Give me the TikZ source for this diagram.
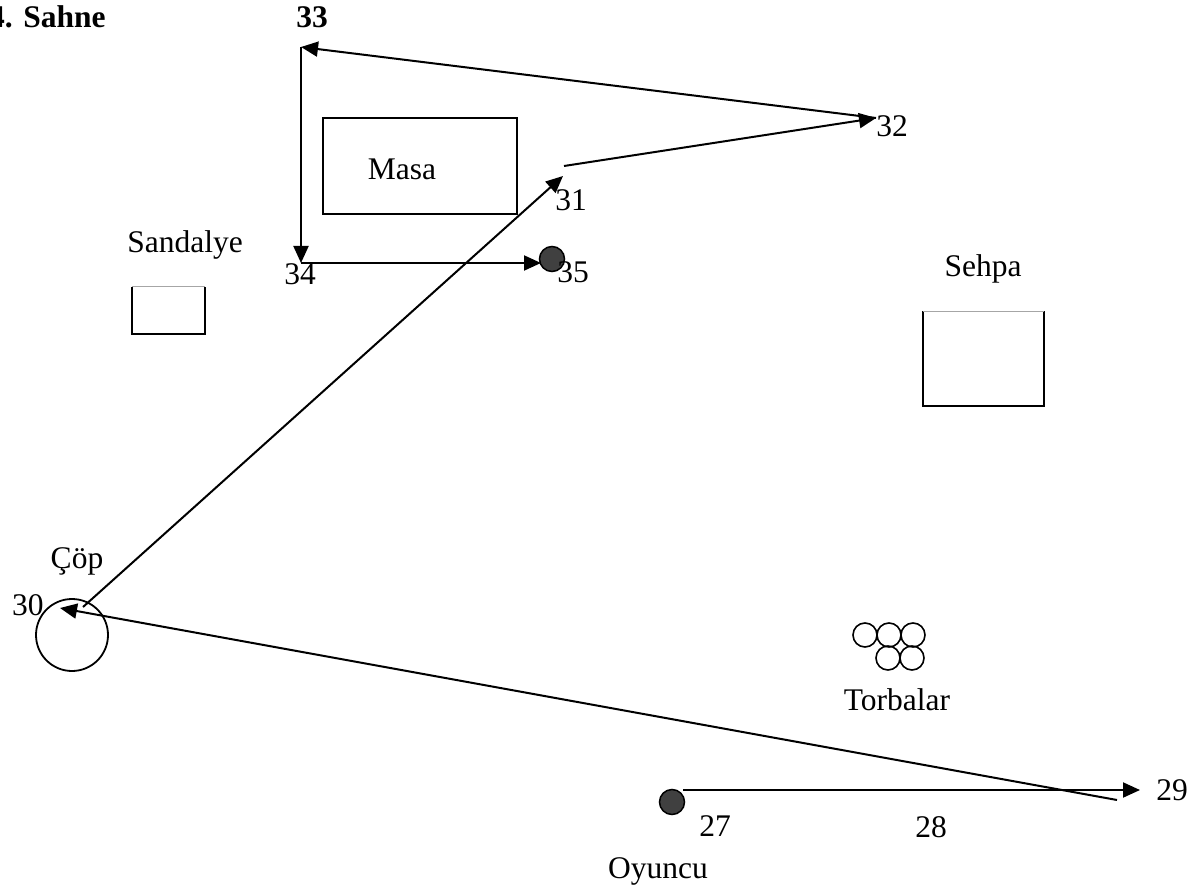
\documentclass[tikz,border=0pt]{standalone}
\usepackage{fontspec}
\setmainfont{Liberation Serif}
\usetikzlibrary{arrows.meta}
\begin{document}
\begin{tikzpicture}[x=1pt,y=-1pt,
  lbl/.style={inner sep=0pt,anchor=base,font=\fontsize{31.5}{36}\selectfont},
  bold lbl/.style={lbl,font=\fontsize{31.5}{36}\selectfont\bfseries},
  ln/.style={line width=2pt},
  arr/.style={ln,-{Triangle[length=17pt,width=15pt]}},
  furn/.style={line width=2pt},
  dot/.style={circle,draw=black,line width=1.5pt,fill=black!75,minimum size=25pt,inner sep=0pt},
  bag/.style={circle,draw=black,line width=1.6pt,minimum size=24pt,inner sep=0pt}]
\useasboundingbox (0,0) rectangle (1191,893);
% title
\node[bold lbl,anchor=base west] (title) at (-11,28) {4. Sahne};
% furniture
\draw[furn] (323,118) rectangle (517,214);
\node[lbl] (masa) at (402,180) {Masa};
\node[lbl] (sandalye) at (185,253) {Sandalye};
\draw[furn] (132,287) -- (132,334) -- (205,334) -- (205,287);
\draw[black!35,line width=1pt] (132,287) -- (205,287);
\node[lbl] (sehpa) at (983,277) {Sehpa};
\draw[furn] (923,311) -- (923,406) -- (1044,406) -- (1044,311);
\draw[black!35,line width=1pt] (923,311) -- (1044,311);
% trash
\node[circle,draw=black,line width=1.8pt,minimum size=72pt,inner sep=0pt] (cop) at (72,635) {};
\node[lbl] (copl) at (77,568) {Çöp};
% bags
\node[bag] (b1) at (865,635) {};
\node[bag] (b2) at (889,635) {};
\node[bag] (b3) at (913,635) {};
\node[bag] (b4) at (888,658) {};
\node[bag] (b5) at (912,658) {};
\node[lbl] (torbalar) at (897,710) {Torbalar};
% player
\node[dot] (p27) at (672,802) {};
\node[lbl] (oyuncu) at (658,878) {Oyuncu};
\node[dot] (p35) at (552,259) {};
% path coordinates
\coordinate (s27) at (683,790);
\coordinate (t29) at (1140,790);
\coordinate (s29) at (1117,800);
\coordinate (t30) at (60,608);
\coordinate (s30) at (83,607);
\coordinate (t31) at (563,176);
\coordinate (s31) at (564,166);
\coordinate (t32) at (876,118);
\coordinate (t33) at (301,47);
\coordinate (t34) at (301,263);
\coordinate (t35) at (541,263);
% connectors
\draw[arr] (s27) -- (t29);
\draw[arr] (s29) -- (t30);
\draw[arr] (s30) -- (t31);
\draw[arr] (s31) -- (t32);
\draw[arr] (t32) -- (t33);
\draw[arr] (t33) -- (t34);
\draw[arr] (t34) -- (t35);
% numbers
\node[lbl] (n27) at (715,836) {27};
\node[lbl] (n28) at (931,837) {28};
\node[lbl] (n29) at (1172,800) {29};
\node[lbl] (n30) at (28,615) {30};
\node[lbl] (n31) at (571,211) {31};
\node[lbl] (n32) at (892,137) {32};
\node[bold lbl] (n33) at (312,28) {33};
\node[lbl] (n34) at (300,285) {34};
\node[lbl] (n35) at (573,283) {35};
\end{tikzpicture}
\end{document}
